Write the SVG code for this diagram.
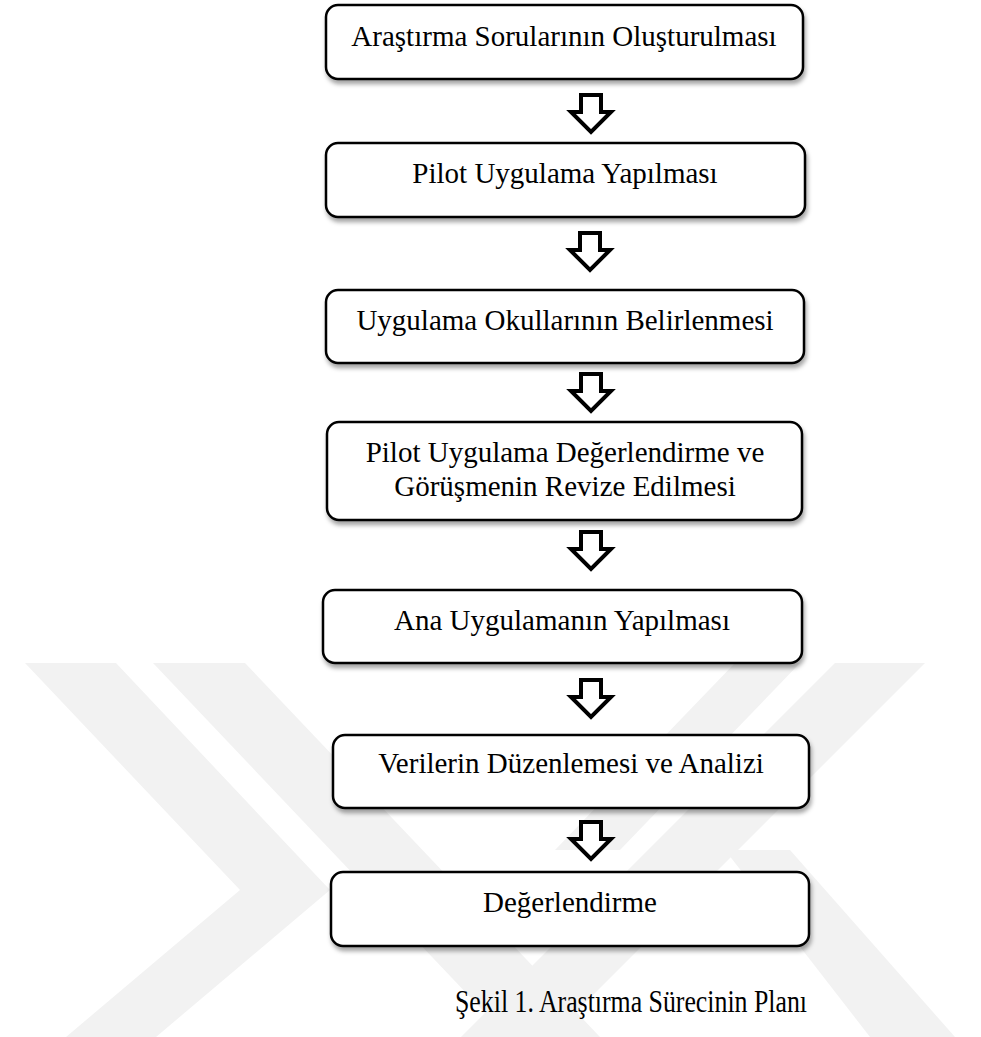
<svg xmlns="http://www.w3.org/2000/svg" width="981" height="1037" viewBox="0 0 981 1037">
<defs>
<filter id="sh" x="-5%" y="-10%" width="115%" height="140%">
<feDropShadow dx="1.5" dy="4" stdDeviation="2" flood-color="#000" flood-opacity="0.35"/>
</filter>
<path id="arr" d="M-10,0 H10 V17 H20 L0,37 L-20,17 H-10 Z"/>
</defs>
<style>
.box{fill:#fff;stroke:#000;stroke-width:2.5;filter:url(#sh)}
.t{font-family:"Liberation Serif","Times New Roman",serif;font-size:29px;fill:#000;text-anchor:middle}
.cap{font-family:"Liberation Serif","Times New Roman",serif;font-size:31px;fill:#000}
.a{fill:#fff;stroke:#000;stroke-width:4;stroke-linejoin:miter}
.wm{fill:#f2f2f2}
</style>
<rect width="981" height="1037" fill="#fff"/>
<g id="watermark">
<polygon class="wm" points="25,663 116,663 330,890 156,1037 66,1037 240,890"/>
<polygon class="wm" points="153,663 245,663 600,1037 508,1037"/>
<polygon class="wm" points="835,663 925,663 551,1037 461,1037"/>
<polygon class="wm" points="735,663 800,663 620,850 555,850"/>
<polygon class="wm" points="725,850 790,850 955,1037 870,1037"/>
</g>
<g id="n1"><rect class="box" x="326" y="5" width="477" height="74" rx="12"/><text class="t" x="564" y="46">Araştırma Sorularının Oluşturulması</text></g>
<g id="n2"><rect class="box" x="326" y="143" width="479" height="74" rx="12"/><text class="t" x="565" y="183">Pilot Uygulama Yapılması</text></g>
<g id="n3"><rect class="box" x="326" y="290" width="478" height="73" rx="12"/><text class="t" x="565" y="330">Uygulama Okullarının Belirlenmesi</text></g>
<g id="n4"><rect class="box" x="327" y="422" width="475" height="98" rx="12"/><text class="t" x="565" y="462">Pilot Uygulama Değerlendirme ve</text><text class="t" x="565" y="496">Görüşmenin Revize Edilmesi</text></g>
<g id="n5"><rect class="box" x="323" y="590" width="479" height="73" rx="12"/><text class="t" x="562" y="630">Ana Uygulamanın Yapılması</text></g>
<g id="n6"><rect class="box" x="333" y="735" width="476" height="73" rx="12"/><text class="t" x="571" y="773">Verilerin Düzenlemesi ve Analizi</text></g>
<g id="n7"><rect class="box" x="331" y="872" width="478" height="74" rx="12"/><text class="t" x="570" y="912">Değerlendirme</text></g>
<g id="connectors">
<use href="#arr" class="a" x="591" y="95"/>
<use href="#arr" class="a" x="590" y="233"/>
<use href="#arr" class="a" x="591" y="374"/>
<use href="#arr" class="a" x="591" y="532"/>
<use href="#arr" class="a" x="591" y="680"/>
<use href="#arr" class="a" x="591" y="822"/>
</g>
<text id="caption" class="cap" x="455" y="1012" textLength="352" lengthAdjust="spacingAndGlyphs">Şekil 1. Araştırma Sürecinin Planı</text>
</svg>
